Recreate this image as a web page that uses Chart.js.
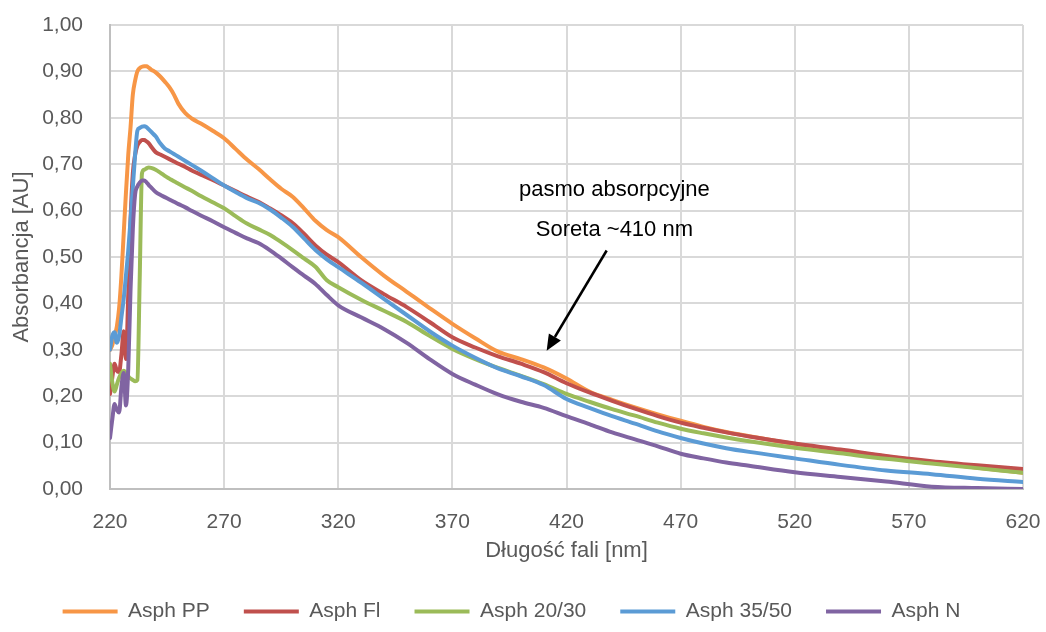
<!DOCTYPE html>
<html>
<head>
<meta charset="utf-8">
<script src="https://cdn.jsdelivr.net/npm/chart.js@4/dist/chart.umd.min.js"></script>
<style>
	html,body{margin:0;padding:0;background:#fff}
	#wrap{width:1046px;height:632px}
</style>
</head>
<body>
<div id="wrap"><canvas id="myChart" width="1046" height="632"></canvas></div>
<script>
"use strict"
// wavelength grid [nm]
const nm = [220,221,222,223,224,225,226,227,228,229,230,231,232,233,234,235,236,237,238,240,
	242,244,246,248,250,253,256,260,265,270,275,280,285,290,295,300,305,310,315,320,
	330,340,350,360,370,380,390,400,410,420,430,440,450,460,470,480,490,500,520,540,560,580,600,620]

const asphPP = [0.30,0.31,0.33,0.35,0.39,0.46,0.55,0.64,0.72,0.78,0.85,0.88,0.90,0.907,0.91,0.911,0.911,0.908,0.904,0.898,
	0.889,0.878,0.866,0.850,0.830,0.810,0.798,0.787,0.772,0.756,0.733,0.710,0.690,0.668,0.647,0.630,0.605,0.578,0.558,0.543,
	0.500,0.460,0.425,0.390,0.356,0.325,0.296,0.280,0.262,0.238,0.210,0.192,0.176,0.161,0.147,0.134,0.123,0.114,0.097,0.083,0.070,0.058,0.046,0.035]
const asphFl = [0.205,0.24,0.27,0.255,0.252,0.29,0.34,0.28,0.42,0.58,0.68,0.72,0.74,0.748,0.752,0.752,0.749,0.745,0.738,0.726,
	0.721,0.716,0.711,0.706,0.701,0.694,0.686,0.677,0.666,0.654,0.642,0.630,0.619,0.605,0.590,0.573,0.550,0.525,0.505,0.489,
	0.450,0.420,0.392,0.360,0.327,0.305,0.286,0.270,0.252,0.228,0.208,0.190,0.173,0.157,0.143,0.132,0.122,0.113,0.098,0.085,0.071,0.060,0.051,0.043]
const asph2030 = [0.27,0.23,0.21,0.225,0.24,0.25,0.255,0.25,0.243,0.238,0.235,0.232,0.235,0.45,0.68,0.688,0.691,0.693,0.692,0.688,
	0.682,0.675,0.669,0.663,0.658,0.650,0.642,0.631,0.618,0.605,0.588,0.572,0.560,0.548,0.532,0.515,0.497,0.479,0.450,0.435,
	0.408,0.384,0.360,0.330,0.302,0.280,0.261,0.244,0.226,0.205,0.188,0.172,0.158,0.143,0.130,0.120,0.111,0.103,0.089,0.077,0.065,0.055,0.045,0.035]
const asph3550 = [0.30,0.33,0.338,0.315,0.33,0.37,0.41,0.46,0.514,0.58,0.65,0.72,0.772,0.778,0.781,0.782,0.78,0.775,0.77,0.76,
	0.745,0.734,0.728,0.722,0.716,0.707,0.698,0.686,0.670,0.654,0.640,0.627,0.617,0.603,0.585,0.565,0.540,0.515,0.495,0.478,
	0.445,0.410,0.375,0.340,0.309,0.283,0.260,0.243,0.224,0.194,0.175,0.157,0.141,0.124,0.110,0.098,0.088,0.080,0.066,0.052,0.040,0.032,0.022,0.015]
const asphN = [0.11,0.15,0.183,0.17,0.165,0.22,0.25,0.18,0.26,0.43,0.56,0.635,0.652,0.66,0.665,0.665,0.661,0.655,0.65,0.64,
	0.634,0.629,0.624,0.619,0.614,0.607,0.599,0.589,0.577,0.564,0.552,0.540,0.530,0.515,0.497,0.478,0.460,0.442,0.418,0.396,
	0.370,0.345,0.315,0.280,0.248,0.225,0.204,0.188,0.175,0.157,0.140,0.122,0.107,0.092,0.076,0.066,0.057,0.050,0.036,0.026,0.016,0.005,0.002,0.0]

const seriesNames = ['Asph PP','Asph Fl','Asph 20/30','Asph 35/50','Asph N']
const seriesData = [asphPP, asphFl, asph2030, asph3550, asphN]
const seriesColors = ['#F79646','#C0504D','#9BBB59','#5B9BD5','#8064A2']

const xTicks = [220,270,320,370,420,470,520,570,620]
const yTicks = [0,0.1,0.2,0.3,0.4,0.5,0.6,0.7,0.8,0.9,1.0]

// annotation (data units)
const noteLines = ['pasmo absorpcyjne','Soreta ~410 nm']
const notePos = [[441, 0.644],[441, 0.558]]
const arrowFrom = [437.6, 0.514]
const arrowTo = [411.3, 0.298]

const FONT = "'Liberation Sans', Arial, sans-serif"
const GREY = '#595959'

let noteplugin = {
	id: 'soret',
	afterDatasetsDraw: chart => {
		const c = chart.ctx, sx = chart.scales.x, sy = chart.scales.y
		c.save()
		c.fillStyle = '#000'
		c.font = '22px ' + FONT
		c.textAlign = 'center'
		c.textBaseline = 'middle'
		noteLines.forEach((t, i) => {
			c.fillText(t, sx.getPixelForValue(notePos[i][0]), sy.getPixelForValue(notePos[i][1]))
		})
		const x1 = sx.getPixelForValue(arrowFrom[0]), y1 = sy.getPixelForValue(arrowFrom[1])
		const x2 = sx.getPixelForValue(arrowTo[0]), y2 = sy.getPixelForValue(arrowTo[1])
		const a = Math.atan2(y2 - y1, x2 - x1), len = 16, hw = 7
		const bx = x2 - Math.cos(a) * len, by = y2 - Math.sin(a) * len
		c.strokeStyle = '#000'
		c.lineWidth = 2.5
		c.beginPath()
		c.moveTo(x1, y1)
		c.lineTo(bx, by)
		c.stroke()
		c.beginPath()
		c.moveTo(x2, y2)
		c.lineTo(bx + Math.sin(a) * hw, by - Math.cos(a) * hw)
		c.lineTo(bx - Math.sin(a) * hw, by + Math.cos(a) * hw)
		c.closePath()
		c.fill()
		c.restore()
	}
}

let datasets = seriesNames.map((name, i) => ({
	label: name,
	data: nm.map((x, j) => ({x: x, y: seriesData[i][j]})),
	borderColor: seriesColors[i],
	backgroundColor: seriesColors[i],
	borderWidth: 4,
	borderCapStyle: 'round',
	borderJoinStyle: 'round',
	pointRadius: 0,
	fill: false,
	cubicInterpolationMode: 'monotone',
	order: seriesNames.length - i
}))

new Chart(document.getElementById('myChart'), {
	type: 'line',
	data: {datasets: datasets},
	plugins: [noteplugin, {
		id: 'bg',
		beforeDraw: chart => {
			const c = chart.ctx
			c.save()
			c.fillStyle = '#fff'
			c.fillRect(0, 0, chart.width, chart.height)
			c.restore()
		}
	}],
	options: {
		responsive: false,
		animation: false,
		layout: {padding: {top: 25, right: 23, bottom: 0, left: 0}},
		plugins: {
			tooltip: {enabled: false},
			legend: {
				position: 'bottom',
				labels: {
					usePointStyle: true,
					pointStyle: 'line',
					pointStyleWidth: 55,
					padding: 34,
					color: GREY,
					font: {family: FONT, size: 21},
					sort: (a, b) => a.datasetIndex - b.datasetIndex
				}
			}
		},
		scales: {
			x: {
				type: 'linear',
				min: 220,
				max: 620,
				afterBuildTicks: s => { s.ticks = xTicks.map(v => ({value: v})) },
				afterFit: s => { s.height = 78 },
				ticks: {color: GREY, font: {family: FONT, size: 21}, padding: 0, maxRotation: 0},
				grid: {color: '#d9d9d9', lineWidth: 2, drawTicks: true, tickLength: 21, tickColor: 'rgba(0,0,0,0)'},
				border: {color: '#bfbfbf', width: 2},
				title: {display: true, text: 'Długość fali [nm]', color: GREY, font: {family: FONT, size: 22}, padding: {top: 0, bottom: 3}}
			},
			y: {
				min: 0,
				max: 1,
				afterBuildTicks: s => { s.ticks = yTicks.map(v => ({value: v})) },
				afterFit: s => { s.width = 110 },
				ticks: {color: GREY, font: {family: FONT, size: 21}, padding: 0, callback: v => v.toFixed(2).replace('.', ',')},
				grid: {color: '#d9d9d9', lineWidth: 2, drawTicks: true, tickLength: 27, tickColor: 'rgba(0,0,0,0)'},
				border: {color: '#bfbfbf', width: 2},
				title: {display: true, text: 'Absorbancja [AU]', color: GREY, font: {family: FONT, size: 22}, padding: {top: 9, bottom: 0}}
			}
		}
	}
})
</script>
</body>
</html>
